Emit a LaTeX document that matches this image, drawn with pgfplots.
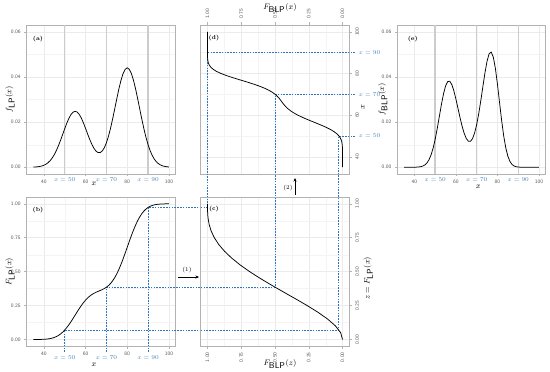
\documentclass[border=0pt]{standalone}
\usepackage{pgfplots}
\pgfplotsset{compat=1.18}
\usepackage{pgfplotstable}
\usetikzlibrary{arrows.meta}
\definecolor{dblue}{RGB}{45,118,190}
\definecolor{lblue}{RGB}{70,130,185}

\pgfplotstableread{
x f F fB FB
35 0.000065 0.000101 0.0000001 0.0000001
36 0.000116 0.000191 0.0000003 0.0000002
37 0.000201 0.000346 0.0000008 0.0000007
38 0.000337 0.000608 0.0000025 0.0000022
39 0.000551 0.001044 0.0000069 0.0000065
40 0.000874 0.001746 0.0000182 0.0000183
41 0.001345 0.002844 0.0000456 0.0000483
42 0.002008 0.004500 0.0001075 0.0001208
43 0.002912 0.006948 0.0002394 0.000287
44 0.004099 0.010404 0.000501 0.000640
45 0.005601 0.015228 0.000993 0.001363
46 0.007429 0.021744 0.001855 0.002755
47 0.009564 0.030204 0.003260 0.005256
48 0.011953 0.040932 0.005400 0.009512
49 0.014501 0.054180 0.008434 0.016367
50 0.017076 0.069948 0.012398 0.026690
51 0.019520 0.088272 0.017188 0.041431
52 0.021661 0.108900 0.022477 0.061244
53 0.023332 0.131436 0.027762 0.086381
54 0.024396 0.155376 0.032450 0.116592
55 0.024765 0.180006 0.035969 0.150901
56 0.024404 0.204637 0.037910 0.187962
57 0.023349 0.228590 0.038114 0.226153
58 0.021694 0.251145 0.036664 0.263653
59 0.019583 0.271824 0.033870 0.299030
60 0.017191 0.290231 0.030162 0.331111
61 0.014707 0.306159 0.026012 0.359184
62 0.012310 0.319682 0.021856 0.383150
63 0.010164 0.330878 0.018068 0.403042
64 0.008409 0.340112 0.014945 0.419456
65 0.007154 0.347876 0.012700 0.433250
66 0.006489 0.354652 0.011502 0.445268
67 0.006482 0.361052 0.011466 0.456603
68 0.007186 0.367852 0.012676 0.468614
69 0.008633 0.375652 0.015170 0.482345
70 0.010831 0.385326 0.018922 0.499298
71 0.013757 0.397612 0.023818 0.520670
72 0.017340 0.413088 0.029609 0.547286
73 0.021451 0.432422 0.035858 0.579963
74 0.025895 0.456129 0.041926 0.618988
75 0.030423 0.484252 0.047026 0.663513
76 0.034738 0.516874 0.050291 0.712380
77 0.038527 0.553575 0.051007 0.763275
78 0.041489 0.593650 0.048802 0.813409
79 0.043376 0.636217 0.043825 0.859970
80 0.044022 0.679996 0.036784 0.900380
81 0.043372 0.723776 0.028743 0.933165
82 0.041479 0.766336 0.020827 0.957909
83 0.038508 0.806400 0.013966 0.975194
84 0.034703 0.843072 0.008647 0.986363
85 0.030358 0.875648 0.004932 0.993030
86 0.025779 0.903680 0.002594 0.996683
87 0.021250 0.927232 0.001252 0.998543
88 0.017003 0.946304 0.000557 0.999406
89 0.013206 0.961344 0.000228 0.999776
90 0.009957 0.972928 0.000085 0.999922
91 0.007288 0.981504 0.000029 0.999975
92 0.005178 0.987648 0.000009 0.999993
93 0.003570 0.992000 0.000003 0.999998
94 0.002390 0.994944 0.000001 0.999999
95 0.001553 0.996896 0 1
96 0.000980 0.998144 0 1
97 0.000600 0.998918 0 1
98 0.000357 0.999386 0 1
99 0.000206 0.999661 0 1
100 0.000115 0.999821 0 1
}\datatab

\pgfplotstableread{
z Bz
0.00 0.000000
0.05 0.014019
0.10 0.052300
0.15 0.109519
0.20 0.180800
0.25 0.261719
0.30 0.348300
0.35 0.437019
0.40 0.524800
0.45 0.609019
0.50 0.687500
0.55 0.758519
0.60 0.820800
0.65 0.873519
0.70 0.916300
0.75 0.949219
0.80 0.972800
0.85 0.988019
0.90 0.996300
0.95 0.999519
1.00 1.000000
}\blptab

\tikzset{
  dec2/.style={/pgf/number format/fixed, /pgf/number format/fixed zerofill, /pgf/number format/precision=2},
  lab/.style={font=\fontsize{8.5}{10}\selectfont},
  blab/.style={font=\fontsize{6.3}{7}\selectfont, text=lblue},
  tag/.style={font=\fontsize{5.8}{6}\selectfont\bfseries},
  curve/.style={black, line width=0.75bp},
  dline/.style={dblue, line width=0.9bp, dash pattern=on 1.6bp off 1.2bp},
  vgrey/.style={gray!40, line width=1.4bp},
}

\pgfplotsset{
  panel/.style={
    scale only axis, anchor=south west, clip=false,
    axis line style={gray!60, line width=0.6bp},
    grid=both,
    major grid style={gray!16, line width=0.45bp},
    minor grid style={gray!9, line width=0.25bp},
    minor tick num=1,
    tick align=outside,
    major tick length=2.5bp, minor tick length=0pt,
    tick style={gray!60, line width=0.5bp},
    tick label style={font=\sffamily\fontsize{5.2}{6}\selectfont, text=gray!70!black},
    /pgf/number format/assume math mode=true,
    scaled x ticks=false, scaled y ticks=false,
  },
}

\begin{document}
\begin{tikzpicture}
\useasboundingbox (0,0) rectangle (550bp,372bp);

% (a)
\begin{axis}[panel, at={(26.7bp,198bp)}, width=149bp, height=149bp,
  xmin=31.75, xmax=103.25, ymin=-0.003, ymax=0.063,
  xtick={40,60,80,100}, ytick={0,0.02,0.04,0.06},
  yticklabel style={dec2}, xtick pos=left, ytick pos=left,
  extra x ticks={50,70,90}, extra x tick labels={$x=50$,$x=70$,$x=90$},
  extra x tick style={major tick length=0pt, grid=none, tick label style={font=\fontsize{6.3}{7}\selectfont, text=lblue}}]
\addplot[vgrey] coordinates {(50,-0.003) (50,0.063)};
\addplot[vgrey] coordinates {(70,-0.003) (70,0.063)};
\addplot[vgrey] coordinates {(90,-0.003) (90,0.063)};
\addplot[curve] table[x=x,y=f]{\datatab};
\node[lab] at (rel axis cs:0.452,-0.068) {$x$};
\node[lab, rotate=90] at (rel axis cs:-0.112,0.5) {$f_{\textsf{LP}}(x)$};
\node[tag] at (rel axis cs:0.076,0.906) {(a)};
\end{axis}

% (b)
\begin{axis}[panel, at={(26.7bp,25.7bp)}, width=149bp, height=149.3bp,
  xmin=31.75, xmax=103.25, ymin=-0.05, ymax=1.05,
  xtick={40,60,80,100}, ytick={0,0.25,0.5,0.75,1},
  yticklabel style={dec2}, xtick pos=left, ytick pos=left]
\addplot[dline] coordinates {(50,-0.092) (50,0.069948) (115.25,0.069948)};
\addplot[dline] coordinates {(70,-0.092) (70,0.385326) (115.25,0.385326)};
\addplot[dline] coordinates {(90,-0.092) (90,0.972928) (115.25,0.972928)};
\addplot[curve] table[x=x,y=F]{\datatab};
\node[blab] at (axis cs:50,-0.13) {$x=50$};
\node[blab] at (axis cs:70,-0.13) {$x=70$};
\node[blab] at (axis cs:90,-0.13) {$x=90$};
\node[lab] at (rel axis cs:0.452,-0.125) {$x$};
\node[lab, rotate=90] at (rel axis cs:-0.112,0.5) {$F_{\textsf{LP}}(x)$};
\node[tag] at (rel axis cs:0.076,0.913) {(b)};
\end{axis}

% (c)
\begin{axis}[panel, at={(200.7bp,25.7bp)}, width=148.6bp, height=149.3bp,
  x dir=reverse, xmin=-0.05, xmax=1.05, ymin=-0.05, ymax=1.05,
  xtick={0,0.25,0.5,0.75,1}, ytick={0,0.25,0.5,0.75,1},
  xtick pos=left, ytick pos=right, yticklabel pos=right,
  xticklabel style={rotate=90, anchor=east, dec2},
  yticklabel style={rotate=90, anchor=north, dec2}]
\addplot[dline] coordinates {(1.05,0.069948) (0.02669,0.069948) (0.02669,1.22)};
\addplot[dline] coordinates {(1.05,0.385326) (0.499298,0.385326) (0.499298,1.22)};
\addplot[dline] coordinates {(1.05,0.972928) (0.999922,0.972928) (0.999922,1.22)};
\addplot[curve] table[x=Bz,y=z]{\blptab};
\node[lab] at (axis cs:0.463,-0.178) {$F_{\textsf{BLP}}(z)$};
\node[lab, rotate=90] at (axis cs:-0.19,0.45) {$z = F_{\textsf{LP}}(x)$};
\node[tag] at (axis cs:0.952,0.962) {(c)};
\end{axis}

% (d)
\begin{axis}[panel, at={(200.7bp,198bp)}, width=148.6bp, height=149bp,
  x dir=reverse, xmin=-0.05, xmax=1.05, ymin=31.75, ymax=103.25,
  xtick={0,0.25,0.5,0.75,1}, ytick={40,60,80,100},
  xtick pos=right, xticklabel pos=right, ytick pos=right, yticklabel pos=right,
  xticklabel style={rotate=90, anchor=west, dec2},
  yticklabel style={rotate=90, anchor=north}]
\addplot[dline] coordinates {(-0.092,90) (0.999922,90) (0.999922,31.75)};
\addplot[dline] coordinates {(-0.092,70) (0.499298,70) (0.499298,31.75)};
\addplot[dline] coordinates {(-0.092,50) (0.02669,50) (0.02669,31.75)};
\addplot[curve] table[x=FB,y=x]{\datatab};
\node[blab, anchor=west] at (axis cs:-0.095,90) {$x=90$};
\node[blab, anchor=west] at (axis cs:-0.095,70) {$x=70$};
\node[blab, anchor=west] at (axis cs:-0.095,50) {$x=50$};
\node[lab] at (axis cs:0.463,111.6) {$F_{\textsf{BLP}}(x)$};
\node[lab, rotate=90] at (axis cs:-0.15,63.9) {$x$};
\node[tag] at (axis cs:0.952,97.0) {(d)};
\end{axis}

% (e)
\begin{axis}[panel, at={(397.3bp,198bp)}, width=148.4bp, height=149bp,
  xmin=31.75, xmax=103.25, ymin=-0.003, ymax=0.063,
  xtick={40,60,80,100}, ytick={0,0.02,0.04,0.06},
  yticklabel style={dec2}, xtick pos=left, ytick pos=left,
  extra x ticks={50,70,90}, extra x tick labels={$x=50$,$x=70$,$x=90$},
  extra x tick style={major tick length=0pt, grid=none, tick label style={font=\fontsize{6.3}{7}\selectfont, text=lblue}}]
\addplot[vgrey] coordinates {(50,-0.003) (50,0.063)};
\addplot[vgrey] coordinates {(70,-0.003) (70,0.063)};
\addplot[vgrey] coordinates {(90,-0.003) (90,0.063)};
\addplot[curve] table[x=x,y=fB]{\datatab};
\node[lab] at (rel axis cs:0.546,-0.085) {$x$};
\node[lab, rotate=90] at (rel axis cs:-0.098,0.5) {$f_{\textsf{BLP}}(x)$};
\node[tag] at (rel axis cs:0.104,0.906) {(e)};
\end{axis}

% arrows
\draw[-{Stealth[length=3.5bp,width=3bp]}, line width=0.8bp] (178bp,95bp) -- (199bp,95bp);
\node[font=\fontsize{5.8}{6}\selectfont] at (187bp,102bp) {(1)};
\draw[-{Stealth[length=3.5bp,width=3bp]}, line width=0.8bp] (295bp,177bp) -- (295bp,194bp);
\node[font=\fontsize{5.8}{6}\selectfont] at (288bp,184bp) {(2)};
\end{tikzpicture}
\end{document}
